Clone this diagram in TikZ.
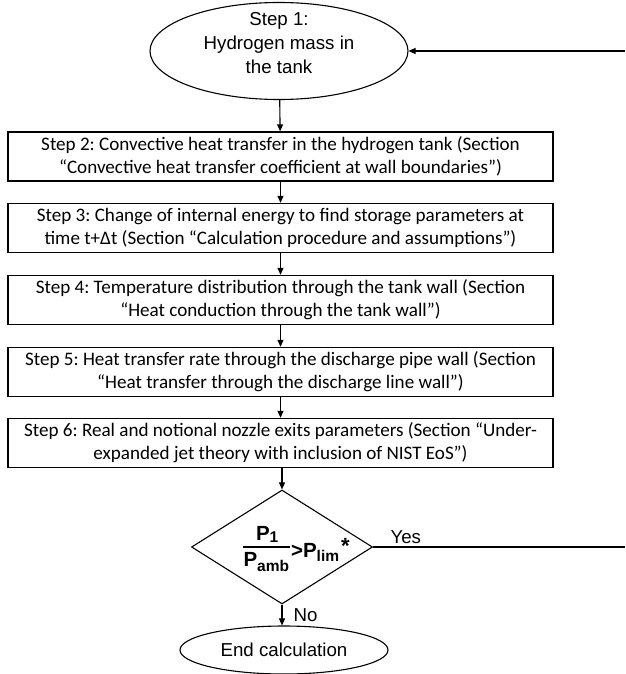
\documentclass[tikz,border=0pt]{standalone}
\usepackage{fontspec}
\setmainfont{Liberation Sans}
\newfontfamily\calibri{Carlito}
\usetikzlibrary{shapes.geometric,arrows.meta}
\frenchspacing
\newcommand\subf[1]{\fontsize{15.5}{17}\selectfont #1}
\begin{document}
\begin{tikzpicture}[x=1pt,y=-1pt,
  every path/.style={line width=1.1pt},
  stepbox/.style={draw, line width=1.4pt, minimum width=545pt, minimum height=49pt, align=center, font=\calibri\fontsize{19.1}{23}\selectfont, inner sep=1pt},
  oval/.style={draw, ellipse, line width=1.1pt, inner sep=0pt},
  txt/.style={align=center, font=\fontsize{18.7}{24}\selectfont, inner sep=0pt},
  lab/.style={font=\fontsize{18.7}{22}\selectfont, inner sep=0pt},
  ftxt/.style={anchor=base west, inner sep=0pt, font=\bfseries\fontsize{20.5}{22}\selectfont},
  arr/.style={-{Triangle[length=7pt,width=6pt]}, line width=1.1pt}]
\useasboundingbox (0,0) rectangle (625,674);
\node[oval, minimum width=258pt, minimum height=97pt] (s1) at (279,51) {};
\node[txt] (s1t) at (279,43) {Step 1:\\Hydrogen mass in\\the tank};
\node[stepbox] (s2) at (280.5,156.5) {Step 2: Convective heat transfer in the hydrogen tank (Section\\“Convective heat transfer coefficient at wall boundaries”)};
\node[stepbox] (s3) at (280.5,228) {Step 3: Change of internal energy to find storage parameters at\\time t+Δt (Section “Calculation procedure and assumptions”)};
\node[stepbox] (s4) at (280.5,300) {Step 4: Temperature distribution through the tank wall (Section\\“Heat conduction through the tank wall”)};
\node[stepbox] (s5) at (280.5,372) {Step 5: Heat transfer rate through the discharge pipe wall (Section\\“Heat transfer through the discharge line wall”)};
\node[stepbox] (s6) at (280.5,443) {Step 6: Real and notional nozzle exits parameters (Section “Under-\\expanded jet theory with inclusion of NIST EoS”)};
\node[draw, diamond, aspect=1.58, minimum width=181pt, minimum height=114pt, inner sep=0pt, line width=1.1pt] (d) at (282,547) {};
\node[ftxt] (num) at (255.5,540) {P\raisebox{-2.5pt}{\subf{1}}};
\node[ftxt] (den) at (243,566) {P\raisebox{-5pt}{\subf{amb}}};
\node[ftxt] (rel) at (290.5,557) {>P\raisebox{-4pt}{\subf{lim}}\kern2pt\raisebox{4pt}{\fontsize{22}{22}\selectfont *}};
\coordinate (barL) at (243,547);
\coordinate (barR) at (290,547);
\draw[line width=1.2pt] (barL) -- (barR);
\node[oval, minimum width=208pt, minimum height=48pt] (e) at (284,650) {};
\node[txt] (et) at (284,650) {End calculation};
\coordinate (r1) at (625,51);
\coordinate (r2) at (625,547);
\draw[arr] (s1) -- (s2);
\draw[arr] (s2) -- (s3);
\draw[arr] (s3) -- (s4);
\draw[arr] (s4) -- (s5);
\draw[arr] (s5) -- (s6);
\draw[arr] (s6.south -| d.north) -- (d.north);
\draw[arr] (d.south) -- (d.south |- e.north);
\draw[arr] (r1) -- (s1.east);
\draw (d.east) -- (r2);
\node[lab, anchor=base west] (yes) at (390,543) {Yes};
\node[lab, anchor=base west] (no) at (293,621) {No};
\end{tikzpicture}
\end{document}
